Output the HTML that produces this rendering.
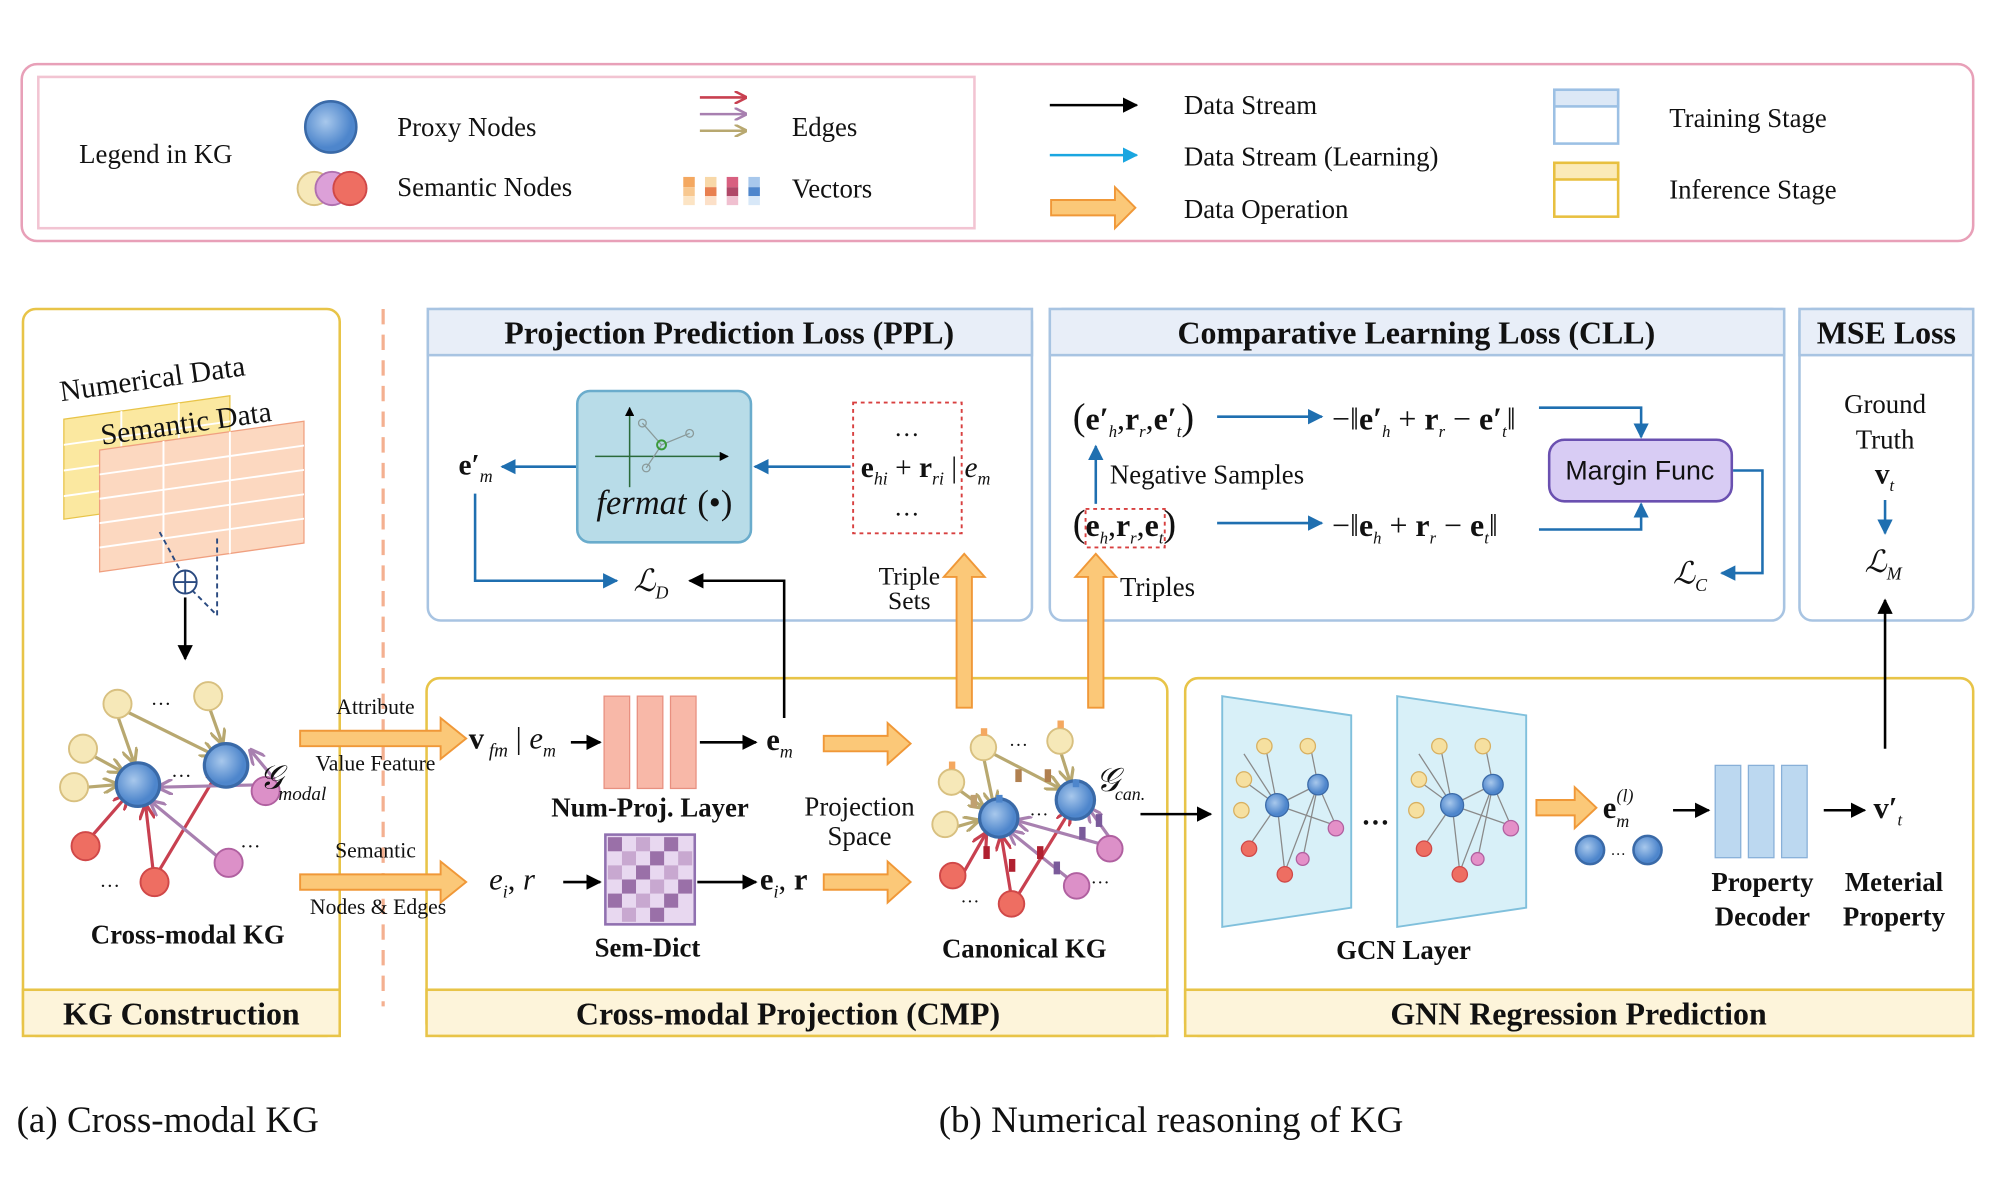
<!DOCTYPE html>
<html><head><meta charset="utf-8"><style>
html,body{margin:0;padding:0;background:#fff;width:2000px;height:1200px;overflow:hidden}
svg{display:block}
text{font-family:"Liberation Serif",serif;fill:#111}
.b{font-weight:bold}
.i{font-style:italic}
</style></head><body>
<svg width="2000" height="1200" viewBox="0 0 1566 936" preserveAspectRatio="none" xmlns="http://www.w3.org/2000/svg">
<defs>
<marker id="ak" viewBox="0 0 10 10" refX="9" refY="5" markerWidth="6" markerHeight="6" orient="auto"><path d="M0,0L10,5L0,10z" fill="#000"/></marker>
<marker id="ab" viewBox="0 0 10 10" refX="9" refY="5" markerWidth="6" markerHeight="6" orient="auto"><path d="M0,0L10,5L0,10z" fill="#1f6fb0"/></marker>
<marker id="ac" viewBox="0 0 10 10" refX="9" refY="5" markerWidth="6" markerHeight="6" orient="auto"><path d="M0,0L10,5L0,10z" fill="#1aa6e0"/></marker>
<marker id="at" viewBox="0 0 10 10" refX="9" refY="5" markerWidth="5" markerHeight="5" orient="auto"><path d="M0,0L10,5L0,10" fill="none" stroke="#b8a870" stroke-width="2"/></marker>
<marker id="ar" viewBox="0 0 10 10" refX="9" refY="5" markerWidth="5" markerHeight="5" orient="auto"><path d="M0,0L10,5L0,10" fill="none" stroke="#c84050" stroke-width="2"/></marker>
<marker id="ap" viewBox="0 0 10 10" refX="9" refY="5" markerWidth="5" markerHeight="5" orient="auto"><path d="M0,0L10,5L0,10" fill="none" stroke="#a880b0" stroke-width="2"/></marker>
<radialGradient id="gb" cx="0.4" cy="0.4"><stop offset="0" stop-color="#a8c8ec"/><stop offset="1" stop-color="#4e86cc"/></radialGradient>
</defs>

<!-- Legend -->
<rect x="17" y="50" width="1528" height="138" rx="12" fill="#fff" stroke="#e8a0b8" stroke-width="2"/>
<rect x="30" y="60" width="733" height="118" fill="none" stroke="#f2c4d2" stroke-width="2"/>
<text x="62" y="127" font-size="21">Legend in KG</text>
<circle cx="259" cy="99" r="20" fill="url(#gb)" stroke="#3a6aa8" stroke-width="2"/>
<text x="311" y="106" font-size="21">Proxy Nodes</text>
<circle cx="246" cy="147" r="13" fill="#f6e8b8" stroke="#d8c080" stroke-width="1.5"/>
<circle cx="260" cy="147" r="13" fill="#dca0d8" stroke="#b070b0" stroke-width="1.5"/>
<circle cx="274" cy="147" r="13" fill="#ee6e62" stroke="#d04848" stroke-width="1.5"/>
<text x="311" y="153" font-size="21">Semantic Nodes</text>
<line x1="548" y1="76" x2="584" y2="76" stroke="#c84050" stroke-width="2" marker-end="url(#ar)"/>
<line x1="548" y1="89" x2="584" y2="89" stroke="#a880b0" stroke-width="2" marker-end="url(#ap)"/>
<line x1="548" y1="102" x2="584" y2="102" stroke="#b8a870" stroke-width="2" marker-end="url(#at)"/>
<text x="620" y="106" font-size="21">Edges</text>
<g>
<rect x="535" y="138" width="9" height="8" fill="#f4a860"/><rect x="535" y="146" width="9" height="7" fill="#f8c890"/><rect x="535" y="153" width="9" height="7" fill="#fce4c4"/>
<rect x="552" y="138" width="9" height="8" fill="#f8d8a8"/><rect x="552" y="146" width="9" height="7" fill="#e88050"/><rect x="552" y="153" width="9" height="7" fill="#fce0c8"/>
<rect x="569" y="138" width="9" height="8" fill="#d86080"/><rect x="569" y="146" width="9" height="7" fill="#b04868"/><rect x="569" y="153" width="9" height="7" fill="#f0c0d0"/>
<rect x="586" y="138" width="9" height="8" fill="#a8c8ec"/><rect x="586" y="146" width="9" height="7" fill="#4e86cc"/><rect x="586" y="153" width="9" height="7" fill="#d8e8f8"/>
</g>
<text x="620" y="154" font-size="21">Vectors</text>
<line x1="822" y1="82" x2="890" y2="82" stroke="#000" stroke-width="2" marker-end="url(#ak)"/>
<text x="927" y="89" font-size="21">Data Stream</text>
<line x1="822" y1="121" x2="890" y2="121" stroke="#1aa6e0" stroke-width="2" marker-end="url(#ac)"/>
<text x="927" y="129" font-size="21">Data Stream (Learning)</text>
<path d="M823,156h50v-10l16,16l-16,16v-10h-50z" fill="#fbc878" stroke="#f09838" stroke-width="1.5"/>
<text x="927" y="170" font-size="21">Data Operation</text>
<rect x="1217" y="70" width="50" height="42" fill="#fff" stroke="#9cc0e4" stroke-width="2"/><rect x="1217" y="70" width="50" height="13" fill="#dce8f6" stroke="#9cc0e4" stroke-width="2"/>
<text x="1307" y="99" font-size="21">Training Stage</text>
<rect x="1217" y="127" width="50" height="42" fill="#fff" stroke="#e8c040" stroke-width="2"/><rect x="1217" y="127" width="50" height="13" fill="#fbeab8" stroke="#e8c040" stroke-width="2"/>
<text x="1307" y="155" font-size="21">Inference Stage</text>

<!-- KG Construction -->
<rect x="18" y="241" width="248" height="567" rx="10" fill="#fff" stroke="#e8c448" stroke-width="2"/>
<rect x="18" y="772" width="248" height="36" fill="#fdf4da" stroke="#e8c448" stroke-width="2"/>
<text x="142" y="799" font-size="25" class="b" text-anchor="middle">KG Construction</text>
<line x1="300" y1="241" x2="300" y2="785" stroke="#f4b090" stroke-width="2.5" stroke-dasharray="12,8"/>
<g transform="skewY(-8) translate(0,24)">
<rect x="50" y="310" width="130" height="78" fill="#fbe8a0" stroke="#e8c448"/>
<path d="M50,330h130M50,350h130M50,370h130M95,310v78M140,310v78" stroke="#fff" stroke-width="1.5"/>
<rect x="78" y="338" width="160" height="95" fill="#fcd8c0" stroke="#f0a080"/>
<path d="M78,357h160M78,376h160M78,395h160M78,414h160M128,338v95M180,338v95" stroke="#fff" stroke-width="1.5"/>
</g>
<text x="48" y="313" font-size="23" transform="rotate(-8 48 313)">Numerical Data</text>
<text x="80" y="347" font-size="23" transform="rotate(-8 80 347)">Semantic Data</text>
<path d="M125,415 L145,452 M170,420 L170,480 L150,460" stroke="#2a4a80" stroke-width="1.5" stroke-dasharray="4,3" fill="none"/>
<circle cx="145" cy="454" r="9" fill="#fff" stroke="#2a4a80" stroke-width="1.5"/><path d="M136,454h18M145,445v18" stroke="#2a4a80" stroke-width="1.5"/>
<line x1="145" y1="466" x2="145" y2="514" stroke="#000" stroke-width="2" marker-end="url(#ak)"/>
<g stroke-width="2.5" fill="none">
<line x1="92" y1="558" x2="105" y2="595" stroke="#b8a870" marker-end="url(#at)"/>
<line x1="95" y1="553" x2="168" y2="589" stroke="#b8a870" marker-end="url(#at)"/>
<line x1="164" y1="552" x2="174" y2="580" stroke="#b8a870" marker-end="url(#at)"/>
<line x1="70" y1="588" x2="96" y2="602" stroke="#b8a870" marker-end="url(#at)"/>
<line x1="68" y1="614" x2="92" y2="612" stroke="#b8a870" marker-end="url(#at)"/>
<line x1="72" y1="652" x2="100" y2="620" stroke="#c84050" marker-end="url(#ar)"/>
<line x1="120" y1="680" x2="114" y2="628" stroke="#c84050" marker-end="url(#ar)"/>
<line x1="124" y1="680" x2="172" y2="600" stroke="#c84050" marker-end="url(#ar)"/>
<line x1="175" y1="672" x2="118" y2="625" stroke="#a880b0" marker-end="url(#ap)"/>
<line x1="210" y1="612" x2="124" y2="614" stroke="#a880b0" marker-end="url(#ap)"/>
<line x1="215" y1="608" x2="196" y2="585" stroke="#a880b0" marker-end="url(#ap)"/>
</g>
<g stroke-width="1.5">
<circle cx="92" cy="549" r="11" fill="#f6e8b8" stroke="#d8c080"/>
<circle cx="163" cy="543" r="11" fill="#f6e8b8" stroke="#d8c080"/>
<circle cx="65" cy="584" r="11" fill="#f6e8b8" stroke="#d8c080"/>
<circle cx="58" cy="614" r="11" fill="#f6e8b8" stroke="#d8c080"/>
<circle cx="108" cy="612" r="17" fill="url(#gb)" stroke="#3a6aa8" stroke-width="2.5"/>
<circle cx="177" cy="597" r="17" fill="url(#gb)" stroke="#3a6aa8" stroke-width="2.5"/>
<circle cx="67" cy="660" r="11" fill="#ee6e62" stroke="#d04848"/>
<circle cx="121" cy="688" r="11" fill="#ee6e62" stroke="#d04848"/>
<circle cx="179" cy="673" r="11" fill="#dc90c8" stroke="#b060a0"/>
<circle cx="208" cy="617" r="11" fill="#dc90c8" stroke="#b060a0"/>
</g>
<text x="118" y="550" font-size="16">…</text><text x="134" y="606" font-size="16">…</text><text x="188" y="661" font-size="16">…</text><text x="78" y="692" font-size="16">…</text>
<text x="203" y="615" font-size="26" class="i">𝒢</text><text x="218" y="624" font-size="15" class="i">modal</text>
<text x="147" y="736" font-size="21" class="b" text-anchor="middle">Cross-modal KG</text>

<!-- PPL -->
<rect x="335" y="241" width="473" height="243" rx="10" fill="#fff" stroke="#a8c4e2" stroke-width="2"/>
<rect x="335" y="241" width="473" height="36" fill="#e8eef8" stroke="#a8c4e2" stroke-width="2"/>
<text x="571" y="268" font-size="25" class="b" text-anchor="middle">Projection Prediction Loss (PPL)</text>
<rect x="452" y="305" width="136" height="118" rx="10" fill="#b8dce8" stroke="#6aaccc" stroke-width="2"/>
<line x1="466" y1="356" x2="570" y2="356" stroke="#2a6a3a" stroke-width="1.2" marker-end="url(#ak)"/>
<line x1="493" y1="380" x2="493" y2="318" stroke="#2a6a3a" stroke-width="1.2" marker-end="url(#ak)"/>
<path d="M503,330L518,347L540,338M518,347L506,365" stroke="#8a9a9a" fill="none"/>
<circle cx="503" cy="330" r="3" fill="none" stroke="#8a9a9a"/><circle cx="518" cy="347" r="3.5" fill="none" stroke="#3a9a3a" stroke-width="1.5"/><circle cx="540" cy="338" r="3" fill="none" stroke="#8a9a9a"/><circle cx="506" cy="365" r="3" fill="none" stroke="#8a9a9a"/>
<text x="467" y="401" font-size="27" class="i">fermat</text><text x="546" y="401" font-size="27">(•)</text>
<rect x="668" y="314" width="85" height="102" fill="none" stroke="#d84040" stroke-width="1.5" stroke-dasharray="3,3"/>
<text x="710" y="340" font-size="20" text-anchor="middle">…</text>
<text x="674" y="372" font-size="23" class="b">e<tspan font-size="14" dy="6" class="i" font-weight="normal">hi</tspan><tspan dy="-6" font-weight="normal"> + </tspan>r<tspan font-size="14" dy="6" class="i" font-weight="normal">ri</tspan><tspan dy="-6" font-weight="normal"> | </tspan><tspan class="i" font-weight="normal">e</tspan><tspan font-size="14" dy="6" class="i" font-weight="normal">m</tspan></text>
<text x="710" y="402" font-size="20" text-anchor="middle">…</text>
<line x1="666" y1="364" x2="591" y2="364" stroke="#1f6fb0" stroke-width="2" marker-end="url(#ab)"/>
<line x1="451" y1="364" x2="393" y2="364" stroke="#1f6fb0" stroke-width="2" marker-end="url(#ab)"/>
<text x="359" y="370" font-size="23" class="b">e′<tspan font-size="14" dy="6" class="i" font-weight="normal">m</tspan></text>
<polyline points="372,385 372,453 483,453" fill="none" stroke="#1f6fb0" stroke-width="2" marker-end="url(#ab)"/>
<text x="496" y="461" font-size="24" class="i">ℒ<tspan font-size="14" dy="6">D</tspan></text>
<text x="712" y="456" font-size="20" text-anchor="middle">Triple</text>
<text x="712" y="475" font-size="20" text-anchor="middle">Sets</text>

<!-- CLL -->
<rect x="822" y="241" width="575" height="243" rx="10" fill="#fff" stroke="#a8c4e2" stroke-width="2"/>
<rect x="822" y="241" width="575" height="36" fill="#e8eef8" stroke="#a8c4e2" stroke-width="2"/>
<text x="1109" y="268" font-size="25" class="b" text-anchor="middle">Comparative Learning  Loss (CLL)</text>
<text x="840" y="335" font-size="25"><tspan font-size="30">(</tspan><tspan class="b">e′</tspan><tspan font-size="13" dy="6" class="i">h</tspan><tspan dy="-6">,</tspan><tspan class="b">r</tspan><tspan font-size="13" dy="6" class="i">r</tspan><tspan dy="-6">,</tspan><tspan class="b">e′</tspan><tspan font-size="13" dy="6" class="i">t</tspan><tspan dy="-6" font-size="30">)</tspan></text>
<line x1="953" y1="325" x2="1035" y2="325" stroke="#1f6fb0" stroke-width="2" marker-end="url(#ab)"/>
<text x="1043" y="335" font-size="25">−‖<tspan class="b">e′</tspan><tspan font-size="13" dy="6" class="i">h</tspan><tspan dy="-6"> + </tspan><tspan class="b">r</tspan><tspan font-size="13" dy="6" class="i">r</tspan><tspan dy="-6"> − </tspan><tspan class="b">e′</tspan><tspan font-size="13" dy="6" class="i">t</tspan><tspan dy="-6">‖</tspan></text>
<rect x="1213" y="343" width="143" height="48" rx="12" fill="#d8ccf4" stroke="#6a50b0" stroke-width="2"/>
<text x="1284" y="374" font-size="21" text-anchor="middle" style="font-family:'Liberation Sans',sans-serif">Margin Func</text>
<polyline points="1205,318 1285,318 1285,341" fill="none" stroke="#1f6fb0" stroke-width="2" marker-end="url(#ab)"/>
<polyline points="1205,413 1285,413 1285,393" fill="none" stroke="#1f6fb0" stroke-width="2" marker-end="url(#ab)"/>
<polyline points="1357,367 1380,367 1380,447 1348,447" fill="none" stroke="#1f6fb0" stroke-width="2" marker-end="url(#ab)"/>
<text x="1310" y="455" font-size="24" class="i">ℒ<tspan font-size="14" dy="6">C</tspan></text>
<line x1="858" y1="393" x2="858" y2="348" stroke="#1f6fb0" stroke-width="2" marker-end="url(#ab)"/>
<text x="869" y="377" font-size="21">Negative Samples</text>
<text x="840" y="418" font-size="25"><tspan font-size="30">(</tspan><tspan class="b">e</tspan><tspan font-size="13" dy="6" class="i">h</tspan><tspan dy="-6">,</tspan><tspan class="b">r</tspan><tspan font-size="13" dy="6" class="i">r</tspan><tspan dy="-6">,</tspan><tspan class="b">e</tspan><tspan font-size="13" dy="6" class="i">t</tspan><tspan dy="-6" font-size="30">)</tspan></text>
<rect x="850" y="397" width="62" height="30" fill="none" stroke="#d84040" stroke-width="1.5" stroke-dasharray="3,3"/>
<line x1="953" y1="408" x2="1035" y2="408" stroke="#1f6fb0" stroke-width="2" marker-end="url(#ab)"/>
<text x="1043" y="418" font-size="25">−‖<tspan class="b">e</tspan><tspan font-size="13" dy="6" class="i">h</tspan><tspan dy="-6"> + </tspan><tspan class="b">r</tspan><tspan font-size="13" dy="6" class="i">r</tspan><tspan dy="-6"> − </tspan><tspan class="b">e</tspan><tspan font-size="13" dy="6" class="i">t</tspan><tspan dy="-6">‖</tspan></text>
<text x="877" y="465" font-size="21">Triples</text>

<!-- MSE -->
<rect x="1409" y="241" width="136" height="243" rx="10" fill="#fff" stroke="#a8c4e2" stroke-width="2"/>
<rect x="1409" y="241" width="136" height="36" fill="#e8eef8" stroke="#a8c4e2" stroke-width="2"/>
<text x="1477" y="268" font-size="25" class="b" text-anchor="middle">MSE Loss</text>
<text x="1476" y="322" font-size="21" text-anchor="middle">Ground</text>
<text x="1476" y="350" font-size="21" text-anchor="middle">Truth</text>
<text x="1468" y="377" font-size="23" class="b">v<tspan font-size="13" dy="6" class="i" font-weight="normal">t</tspan></text>
<line x1="1476" y1="390" x2="1476" y2="416" stroke="#1f6fb0" stroke-width="2" marker-end="url(#ab)"/>
<text x="1460" y="446" font-size="24" class="i">ℒ<tspan font-size="14" dy="6">M</tspan></text>

<!-- CMP -->
<rect x="334" y="529" width="580" height="279" rx="10" fill="#fff" stroke="#e8c448" stroke-width="2"/>
<rect x="334" y="772" width="580" height="36" fill="#fdf4da" stroke="#e8c448" stroke-width="2"/>
<text x="617" y="799" font-size="25" class="b" text-anchor="middle">Cross-modal Projection (CMP)</text>
<path d="M235,570h110v-10l20,16l-20,16v-10h-110z" fill="#fbc878" stroke="#f09838" stroke-width="1.5"/>
<path d="M235,682h110v-10l20,16l-20,16v-10h-110z" fill="#fbc878" stroke="#f09838" stroke-width="1.5"/>
<text x="294" y="557" font-size="17" text-anchor="middle">Attribute</text>
<text x="294" y="601" font-size="17" text-anchor="middle">Value Feature</text>
<text x="294" y="669" font-size="17" text-anchor="middle">Semantic</text>
<text x="296" y="713" font-size="17" text-anchor="middle">Nodes &amp; Edges</text>
<text x="367" y="584" font-size="24" class="b">v<tspan font-size="15" dy="6" class="i" font-weight="normal"> fm</tspan><tspan dy="-6" font-weight="normal"> | </tspan><tspan class="i" font-weight="normal">e</tspan><tspan font-size="14" dy="6" class="i" font-weight="normal">m</tspan></text>
<line x1="447" y1="579" x2="470" y2="579" stroke="#000" stroke-width="2" marker-end="url(#ak)"/>
<rect x="473" y="543" width="20" height="72" fill="#f8b8a8" stroke="#e89080"/>
<rect x="499" y="543" width="20" height="72" fill="#f8b8a8" stroke="#e89080"/>
<rect x="525" y="543" width="20" height="72" fill="#f8b8a8" stroke="#e89080"/>
<line x1="548" y1="579" x2="592" y2="579" stroke="#000" stroke-width="2" marker-end="url(#ak)"/>
<text x="600" y="585" font-size="24" class="b">e<tspan font-size="14" dy="6" class="i" font-weight="normal">m</tspan></text>
<text x="509" y="637" font-size="21" class="b" text-anchor="middle">Num-Proj. Layer</text>
<text x="383" y="694" font-size="24" class="i">e<tspan font-size="14" dy="6">i</tspan><tspan dy="-6" font-style="normal">, </tspan>r</text>
<line x1="441" y1="688" x2="470" y2="688" stroke="#000" stroke-width="2" marker-end="url(#ak)"/>
<rect x="474" y="651" width="70" height="70" fill="#e8d8f0" stroke="#9070b0" stroke-width="2"/>
<g fill="#9a70a8">
<rect x="476" y="653" width="11" height="11"/><rect x="498" y="653" width="11" height="11" fill="#c8a8d0"/><rect x="520" y="653" width="11" height="11"/>
<rect x="487" y="664" width="11" height="11" fill="#c8a8d0"/><rect x="509" y="664" width="11" height="11"/><rect x="531" y="664" width="11" height="11" fill="#c8a8d0"/>
<rect x="476" y="675" width="11" height="11" fill="#c8a8d0"/><rect x="498" y="675" width="11" height="11"/><rect x="520" y="675" width="11" height="11" fill="#c8a8d0"/>
<rect x="487" y="686" width="11" height="11"/><rect x="509" y="686" width="11" height="11" fill="#c8a8d0"/><rect x="531" y="686" width="11" height="11"/>
<rect x="476" y="697" width="11" height="11"/><rect x="498" y="697" width="11" height="11" fill="#c8a8d0"/><rect x="520" y="697" width="11" height="11"/>
<rect x="487" y="708" width="11" height="11" fill="#c8a8d0"/><rect x="509" y="708" width="11" height="11"/>
</g>
<line x1="546" y1="688" x2="592" y2="688" stroke="#000" stroke-width="2" marker-end="url(#ak)"/>
<text x="595" y="694" font-size="24" class="b">e<tspan font-size="14" dy="6" class="i" font-weight="normal">i</tspan><tspan dy="-6" font-weight="normal">, </tspan>r</text>
<text x="507" y="746" font-size="21" class="b" text-anchor="middle">Sem-Dict</text>
<path d="M645,574h50v-10l18,16l-18,16v-10h-50z" fill="#fbc878" stroke="#f09838" stroke-width="1.5"/>
<path d="M645,682h50v-10l18,16l-18,16v-10h-50z" fill="#fbc878" stroke="#f09838" stroke-width="1.5"/>
<text x="673" y="636" font-size="21" text-anchor="middle">Projection</text>
<text x="673" y="659" font-size="21" text-anchor="middle">Space</text>
<g stroke-width="2.5" fill="none">
<line x1="770" y1="590" x2="778" y2="628" stroke="#b8a870" marker-end="url(#at)"/>
<line x1="772" y1="585" x2="830" y2="615" stroke="#b8a870" marker-end="url(#at)"/>
<line x1="830" y1="585" x2="838" y2="610" stroke="#b8a870" marker-end="url(#at)"/>
<line x1="748" y1="614" x2="770" y2="630" stroke="#b8a870" marker-end="url(#at)"/>
<line x1="745" y1="646" x2="766" y2="640" stroke="#b8a870" marker-end="url(#at)"/>
<line x1="752" y1="685" x2="772" y2="650" stroke="#c84050" marker-end="url(#ar)"/>
<line x1="792" y1="700" x2="784" y2="652" stroke="#c84050" marker-end="url(#ar)"/>
<line x1="796" y1="700" x2="838" y2="632" stroke="#c84050" marker-end="url(#ar)"/>
<line x1="840" y1="688" x2="790" y2="648" stroke="#a880b0" marker-end="url(#ap)"/>
<line x1="868" y1="660" x2="796" y2="640" stroke="#a880b0" marker-end="url(#ap)"/>
<line x1="870" y1="655" x2="852" y2="630" stroke="#a880b0" marker-end="url(#ap)"/>
</g>
<g stroke-width="1.5">
<circle cx="770" cy="583" r="10" fill="#f6e8b8" stroke="#d8c080"/>
<circle cx="830" cy="578" r="10" fill="#f6e8b8" stroke="#d8c080"/>
<circle cx="745" cy="610" r="10" fill="#f6e8b8" stroke="#d8c080"/>
<circle cx="740" cy="643" r="10" fill="#f6e8b8" stroke="#d8c080"/>
<circle cx="782" cy="638" r="15" fill="url(#gb)" stroke="#3a6aa8" stroke-width="2.5"/>
<circle cx="842" cy="624" r="15" fill="url(#gb)" stroke="#3a6aa8" stroke-width="2.5"/>
<circle cx="746" cy="683" r="10" fill="#ee6e62" stroke="#d04848"/>
<circle cx="792" cy="705" r="10" fill="#ee6e62" stroke="#d04848"/>
<circle cx="843" cy="691" r="10" fill="#dc90c8" stroke="#b060a0"/>
<circle cx="869" cy="662" r="10" fill="#dc90c8" stroke="#b060a0"/>
</g>
<g>
<rect x="768" y="568" width="5" height="6" fill="#f4a860"/><rect x="828" y="562" width="5" height="6" fill="#f4a860"/><rect x="743" y="594" width="5" height="6" fill="#f4a860"/>
<rect x="795" y="600" width="5" height="10" fill="#b08050"/><rect x="818" y="600" width="5" height="10" fill="#b08050"/><rect x="760" y="620" width="5" height="10" fill="#c0a070"/>
<rect x="780" y="620" width="5" height="6" fill="#4e86cc"/><rect x="840" y="608" width="5" height="6" fill="#4e86cc"/>
<rect x="770" y="660" width="5" height="10" fill="#b02030"/><rect x="790" y="670" width="5" height="10" fill="#b02030"/><rect x="812" y="660" width="5" height="10" fill="#b02030"/>
<rect x="845" y="645" width="5" height="10" fill="#7a5a9a"/><rect x="858" y="635" width="5" height="10" fill="#7a5a9a"/><rect x="825" y="672" width="5" height="10" fill="#7a5a9a"/>
</g>
<text x="790" y="582" font-size="15">…</text><text x="806" y="636" font-size="15">…</text><text x="854" y="689" font-size="15">…</text><text x="752" y="704" font-size="15">…</text>
<text x="858" y="617" font-size="26" class="i">𝒢</text><text x="873" y="624" font-size="14" class="i">can.</text>
<text x="802" y="747" font-size="21" class="b" text-anchor="middle">Canonical KG</text>

<!-- GNN -->
<rect x="928" y="529" width="617" height="279" rx="10" fill="#fff" stroke="#e8c448" stroke-width="2"/>
<rect x="928" y="772" width="617" height="36" fill="#fdf4da" stroke="#e8c448" stroke-width="2"/>
<text x="1236" y="799" font-size="25" class="b" text-anchor="middle">GNN Regression Prediction</text>
<g id="gcn">
<path d="M957,543L1058,558L1058,708L957,723z" fill="#d8f0f8" stroke="#80c0dc" stroke-width="1.5"/>
<g stroke="#8a8a8a" stroke-width="1" fill="none">
<path d="M974,588L1000,628L1032,612M990,578L1000,628M1026,582L1032,612L1046,644M978,612L1000,628L978,660M1000,628L1006,680M1000,628L1046,644M1032,612L1020,670M1006,680L1032,612"/>
</g>
<circle cx="990" cy="582" r="6" fill="#f6e0a0" stroke="#d8b060"/><circle cx="1024" cy="582" r="6" fill="#f6e0a0" stroke="#d8b060"/>
<circle cx="974" cy="608" r="6" fill="#f6e0a0" stroke="#d8b060"/><circle cx="972" cy="632" r="6" fill="#f6e0a0" stroke="#d8b060"/>
<circle cx="1000" cy="628" r="9" fill="url(#gb)" stroke="#3a6aa8"/><circle cx="1032" cy="612" r="8" fill="url(#gb)" stroke="#3a6aa8"/>
<circle cx="978" cy="662" r="6" fill="#ee6e62" stroke="#d04848"/><circle cx="1006" cy="682" r="6" fill="#ee6e62" stroke="#d04848"/>
<circle cx="1046" cy="646" r="6" fill="#e490c8" stroke="#b060a0"/><circle cx="1020" cy="670" r="5" fill="#e490c8" stroke="#b060a0"/>
</g>
<use href="#gcn" transform="translate(137,0)"/>
<text x="1077" y="643" font-size="22" class="b" text-anchor="middle">…</text>
<path d="M1203,624h30v-10l17,16l-17,16v-10h-30z" fill="#fbc878" stroke="#f09838" stroke-width="1.5"/>
<text x="1255" y="638" font-size="24" class="b">e<tspan font-size="14" dy="7" class="i" font-weight="normal">m</tspan><tspan font-size="14" dy="-20" dx="-10" class="i" font-weight="normal">(l)</tspan></text>
<circle cx="1245" cy="663" r="11" fill="url(#gb)" stroke="#3a6aa8" stroke-width="2"/>
<circle cx="1290" cy="663" r="11" fill="url(#gb)" stroke="#3a6aa8" stroke-width="2"/>
<text x="1267" y="667" font-size="12" text-anchor="middle">…</text>
<line x1="1310" y1="632" x2="1338" y2="632" stroke="#000" stroke-width="2" marker-end="url(#ak)"/>
<rect x="1343" y="597" width="20" height="72" fill="#bcd8f0" stroke="#88b0d8"/>
<rect x="1369" y="597" width="20" height="72" fill="#bcd8f0" stroke="#88b0d8"/>
<rect x="1395" y="597" width="20" height="72" fill="#bcd8f0" stroke="#88b0d8"/>
<line x1="1428" y1="632" x2="1460" y2="632" stroke="#000" stroke-width="2" marker-end="url(#ak)"/>
<text x="1467" y="638" font-size="24" class="b">v′<tspan font-size="13" dy="6" class="i" font-weight="normal">t</tspan></text>
<text x="1380" y="695" font-size="21" class="b" text-anchor="middle">Property</text>
<text x="1380" y="722" font-size="21" class="b" text-anchor="middle">Decoder</text>
<text x="1483" y="695" font-size="21" class="b" text-anchor="middle">Meterial</text>
<text x="1483" y="722" font-size="21" class="b" text-anchor="middle">Property</text>
<text x="1099" y="748" font-size="21" class="b" text-anchor="middle">GCN Layer</text>

<!-- overlaid connectors -->
<polyline points="614,560 614,453 540,453" fill="none" stroke="#000" stroke-width="2" marker-end="url(#ak)"/>
<path d="M749,552v-102h-10l16,-18l16,18h-10v102z" fill="#fbc878" stroke="#f09838" stroke-width="1.5"/>
<path d="M852,552v-102h-10l16,-18l16,18h-10v102z" fill="#fbc878" stroke="#f09838" stroke-width="1.5"/>
<line x1="893" y1="635" x2="948" y2="635" stroke="#000" stroke-width="2" marker-end="url(#ak)"/>
<line x1="1476" y1="584" x2="1476" y2="468" stroke="#000" stroke-width="2" marker-end="url(#ak)"/>

<!-- captions -->
<text x="13" y="883" font-size="29">(a) Cross-modal KG</text>
<text x="735" y="883" font-size="29">(b) Numerical reasoning of KG</text>
</svg>
</body></html>
